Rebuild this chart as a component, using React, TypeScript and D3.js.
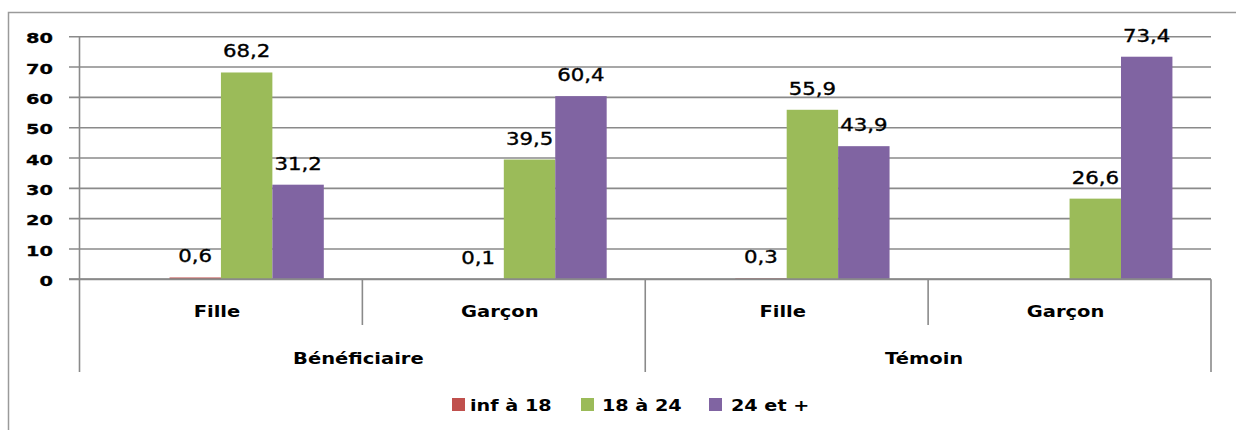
import React from "react";
import * as d3 from "d3";

const groups = ["Bénéficiaire", "Témoin"];
const subCategories = ["Fille", "Garçon"];
const seriesNames = ["inf à 18", "18 à 24", "24 et +"];
const seriesColors = ["#C0504D", "#9BBB59", "#8064A2"];
// values per category (Bénéficiaire-Fille, Bénéficiaire-Garçon, Témoin-Fille, Témoin-Garçon)
const infA18 = [0.6, 0.1, 0.3, null];
const de18a24 = [68.2, 39.5, 55.9, 26.6];
const plus24 = [31.2, 60.4, 43.9, 73.4];
const yTicks = [0, 10, 20, 30, 40, 50, 60, 70, 80];

const W = 1236;
const H = 430;
const left = 79.5;
const right = 1211;
const top = 36.7;
const bottom = 279.3;

const fmt = (v: number) => v.toFixed(1).replace(".", ",");

function SText({ x, y, sx = 1.2, anchor = "middle", size = 16, bold = false, thick = 0, children }: any) {
  return (
    <text
      transform={`translate(${x},${y}) scale(${sx},1)`}
      textAnchor={anchor}
      fontFamily="DejaVu Sans"
      fontSize={size}
      fontWeight={bold ? "bold" : "normal"}
      fill="#000"
      stroke={thick ? "#000" : "none"}
      strokeWidth={thick}
    >
      {children}
    </text>
  );
}

export default function App() {
  const cats = groups.flatMap((g) => subCategories.map((s) => `${g}|${s}`));
  const x = d3.scaleBand<string>().domain(cats).range([left, right]).padding(0);
  // Excel leaves an empty leading slot in each cluster
  const xi = d3
    .scaleBand<string>()
    .domain(["", ...seriesNames])
    .range([0, x.step()])
    .paddingInner(0)
    .paddingOuter(0.75);
  const y = d3.scaleLinear().domain([0, 80]).range([bottom, top]);
  const series = [infA18, de18a24, plus24];
  const gridColor = "#8a8a8a";

  const legendItems = [
    { sq: 452, tx: 470 },
    { sq: 581, tx: 602 },
    { sq: 709, tx: 731 },
  ];

  return (
    <svg width={W} height={H} style={{ position: "absolute", left: 0, top: 0 }}>
      <rect x={0} y={0} width={W} height={H} fill="#fff" />
      <rect x={8.5} y={12.5} width={1240} height={450} fill="none" stroke="#9a9a9a" strokeWidth={1.5} />
      {/* gridlines */}
      {yTicks.map((t) => (
        <line key={t} x1={69} x2={right} y1={y(t)} y2={y(t)} stroke={gridColor} strokeWidth={1.6} />
      ))}
      {/* y axis */}
      <line x1={left} x2={left} y1={top} y2={bottom} stroke={gridColor} strokeWidth={1.6} />
      {yTicks.map((t) => (
        <SText key={t} x={53} y={y(t) + 6.6} anchor="end" size={14} bold sx={1.38} thick={0.3}>
          {t}
        </SText>
      ))}
      {/* bars */}
      {series.map((vals, si) =>
        vals.map((v, ci) =>
          v == null ? null : (
            <rect
              key={`${si}-${ci}`}
              x={(x(cats[ci]) as number) + (xi(seriesNames[si]) as number)}
              y={y(v)}
              width={xi.bandwidth()}
              height={y(0) - y(v)}
              fill={seriesColors[si]}
            />
          )
        )
      )}
      {/* zero axis line drawn over the bars */}
      <line x1={69} x2={right} y1={y(0)} y2={y(0)} stroke={gridColor} strokeWidth={2} />
      {/* data labels */}
      {series.map((vals, si) =>
        vals.map((v, ci) =>
          v == null ? null : (
            <SText
              key={`l${si}-${ci}`}
              x={(x(cats[ci]) as number) + (xi(seriesNames[si]) as number) + xi.bandwidth() / 2}
              y={y(v) - 15}
              size={17}
              sx={1.25}
              thick={0.35}
            >
              {fmt(v)}
            </SText>
          )
        )
      )}
      {/* category separators */}
      {cats.map((c, i) => (
        <line
          key={`sep${i}`}
          x1={x(c) as number}
          x2={x(c) as number}
          y1={bottom}
          y2={i % 2 === 0 ? 372 : 325}
          stroke={gridColor}
          strokeWidth={1.6}
        />
      ))}
      <line x1={right} x2={right} y1={bottom} y2={372} stroke={gridColor} strokeWidth={1.6} />
      {/* sub category labels */}
      {cats.map((c) => (
        <SText key={`c${c}`} x={(x(c) as number) + x.bandwidth() / 2 - 4} y={316.5} size={16} bold sx={1.22}>
          {c.split("|")[1]}
        </SText>
      ))}
      {/* group labels */}
      {groups.map((g) => {
        const x0 = x(`${g}|${subCategories[0]}`) as number;
        return (
          <SText key={g} x={x0 + x.bandwidth() - 4} y={363.5} size={16} bold sx={1.22}>
            {g}
          </SText>
        );
      })}
      {/* legend */}
      {seriesNames.map((s, i) => (
        <g key={s}>
          <rect x={legendItems[i].sq} y={398} width={13} height={13} fill={seriesColors[i]} />
          <SText x={legendItems[i].tx} y={411} anchor="start" size={16} bold sx={1.2}>
            {s}
          </SText>
        </g>
      ))}
    </svg>
  );
}
